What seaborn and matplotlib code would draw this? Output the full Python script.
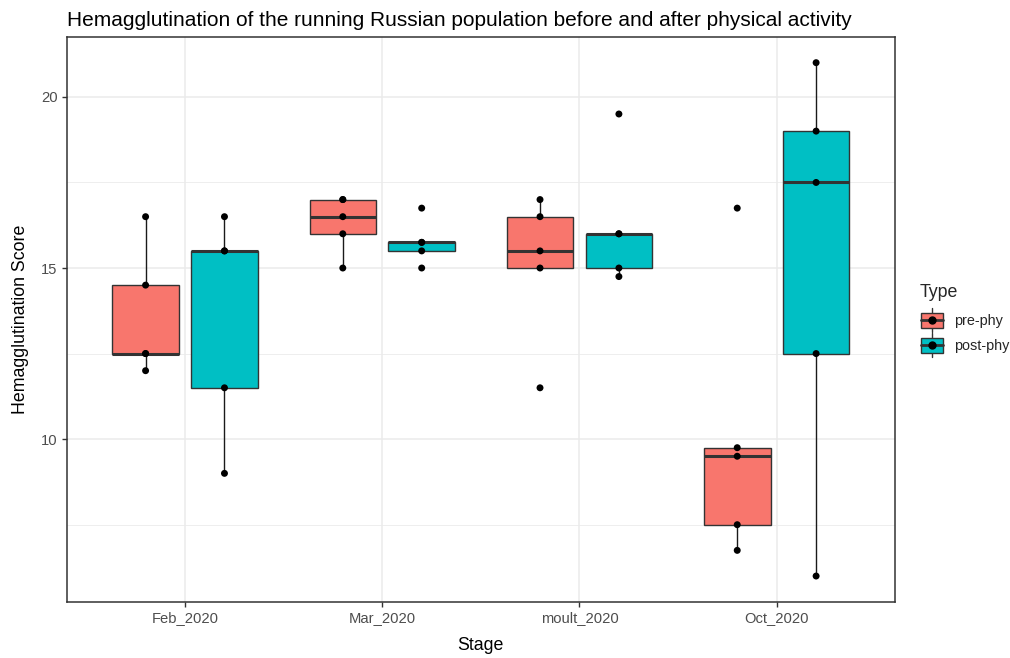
import numpy as np
import pandas as pd
import matplotlib
matplotlib.use("Agg")
import matplotlib.pyplot as plt
from matplotlib.patches import Rectangle
from matplotlib.lines import Line2D
from matplotlib.legend_handler import HandlerBase
import seaborn as sns

# Hemagglutination scores per stage, before and after physical activity
stages = ["Feb_2020", "Mar_2020", "moult_2020", "Oct_2020"]
types = ["pre-phy", "post-phy"]
pre_phy = [
    [12.0, 12.5, 12.5, 14.5, 16.5],
    [15.0, 16.0, 16.5, 17.0, 17.0],
    [11.5, 15.0, 15.5, 16.5, 17.0],
    [6.75, 7.5, 9.5, 9.75, 16.75],
]
post_phy = [
    [9.0, 11.5, 15.5, 15.5, 16.5],
    [15.0, 15.5, 15.75, 15.75, 16.75],
    [14.75, 15.0, 16.0, 16.0, 19.5],
    [6.0, 12.5, 17.5, 19.0, 21.0],
]
type_colors = ["#F8766D", "#00BFC4"]

rows = []
for stage, pre_vals, post_vals in zip(stages, pre_phy, post_phy):
    for v in pre_vals:
        rows.append((stage, types[0], v))
    for v in post_vals:
        rows.append((stage, types[1], v))
df = pd.DataFrame(rows, columns=["Stage", "Type", "Score"])

sns.set_theme(style="white")
plt.rcParams["font.family"] = ["Liberation Sans", "DejaVu Sans"]

EDGE = "#333333"
POINT_SIZE = 5.0
fig = plt.figure(figsize=(10.1, 6.58), dpi=100)
ax = fig.add_axes([66.7 / 1010, (658 - 601.7) / 658,
                   (895 - 66.7) / 1010, (601.7 - 37) / 658])

sns.boxplot(
    data=df, x="Stage", y="Score", hue="Type", order=stages, hue_order=types,
    palette=type_colors, saturation=1, width=0.8, gap=0.156, whis=1.5,
    showfliers=False, showcaps=False, linecolor=EDGE, linewidth=1.0,
    medianprops={"linewidth": 2.2, "color": EDGE},
    whiskerprops={"linewidth": 1.0, "color": "#1a1a1a"},
    legend=False, ax=ax,
)
sns.stripplot(
    data=df, x="Stage", y="Score", hue="Type", order=stages, hue_order=types,
    palette=["black", "black"], dodge=True, jitter=False, size=POINT_SIZE,
    linewidth=0, legend=False, zorder=4, ax=ax,
)

ax.set_xlim(-0.6, 3.6)
ax.set_ylim(5.25, 21.75)
ax.set_yticks([10, 15, 20])
ax.set_yticks([7.5, 12.5, 17.5], minor=True)
ax.set_axisbelow(True)
ax.grid(True, which="major", color="#EBEBEB", linewidth=1.1)
ax.grid(True, which="minor", axis="y", color="#EBEBEB", linewidth=0.6)
for spine in ax.spines.values():
    spine.set_visible(True)
    spine.set_color(EDGE)
    spine.set_linewidth(1.1)
ax.tick_params(axis="both", which="major", direction="out", length=3.5,
               width=1.0, color=EDGE, labelcolor="#4D4D4D", labelsize=10.6,
               pad=3, bottom=True, left=True)
ax.tick_params(axis="both", which="minor", length=0)

ax.set_xlabel("Stage", fontsize=12.8, color="black", labelpad=9)
ax.set_ylabel("Hemagglutination Score", fontsize=12.8, color="black", labelpad=9)
ax.set_title("Hemagglutination of the running Russian population before and after physical activity",
             fontsize=15.0, loc="left", color="black", pad=8)


class BoxKeyHandler(HandlerBase):
    """Legend key drawn as a small boxplot glyph with a point on top."""

    def create_artists(self, legend, orig_handle, xdescent, ydescent,
                       width, height, fontsize, trans):
        x0, y0 = -xdescent, -ydescent
        cx = x0 + width / 2
        cy = y0 + height / 2
        bw, bh, wh = 16.0, 10.5, 17.3
        whisk = Line2D([cx, cx], [cy - wh / 2, cy + wh / 2], color=EDGE,
                       lw=1.0, transform=trans)
        box = Rectangle((cx - bw / 2, cy - bh / 2), bw, bh,
                        facecolor=orig_handle.get_facecolor(),
                        edgecolor=EDGE, lw=1.0, transform=trans)
        med = Line2D([cx - bw / 2, cx + bw / 2], [cy, cy], color=EDGE,
                     lw=2.0, transform=trans)
        dot = Line2D([cx], [cy], marker="o", markersize=POINT_SIZE,
                     color="black", linestyle="none", transform=trans)
        return [whisk, box, med, dot]


handles = [Rectangle((0, 0), 1, 1, facecolor=c) for c in type_colors]
leg = fig.legend(
    handles, types, title="Type", loc="upper left",
    bbox_to_anchor=(914 / 1010, 1 - 278 / 658), frameon=False,
    fontsize=10.4, title_fontsize=12.8, handlelength=1.7, handleheight=2.3,
    handletextpad=0.65, labelspacing=0.0, borderaxespad=0,
    handler_map={Rectangle: BoxKeyHandler()},
)
leg._legend_box.align = "left"
leg._legend_box.sep = 5.0

fig.savefig("out.png", dpi=100, facecolor="white")
